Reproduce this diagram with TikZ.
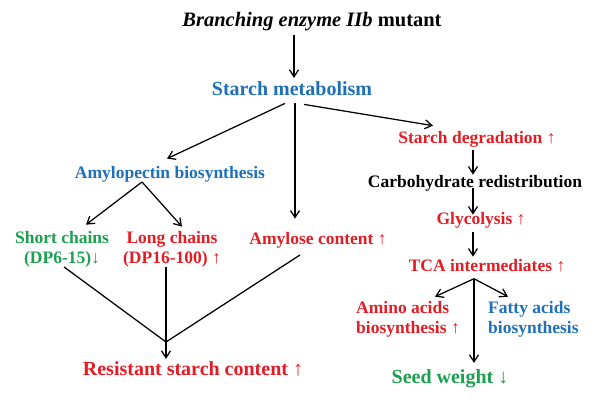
\documentclass[tikz,border=0pt]{standalone}
\usepackage{fontspec}
\setmainfont{Liberation Serif}
\usetikzlibrary{arrows.meta}
\definecolor{pathblue}{RGB}{30,112,186}
\definecolor{upred}{RGB}{228,28,36}
\definecolor{downgreen}{RGB}{26,160,78}
\tikzset{
  bigtxt/.style={font=\bfseries\fontsize{20}{22}\selectfont, inner sep=0pt, anchor=base},
  smalltxt/.style={font=\bfseries\fontsize{17.5}{20}\selectfont, inner sep=0pt, anchor=base, align=center},
  flow/.style={-{Straight Barb[length=7pt,width=9pt]}, line width=1.25pt},
  mergeline/.style={line width=1.25pt}
}
\begin{document}
\begin{tikzpicture}[x=1pt,y=-1pt]
  % mutante BEIIb e seus efeitos
  \useasboundingbox (0,0) rectangle (599,402);
  \node[bigtxt, font=\bfseries\fontsize{20.5}{22}\selectfont] (mutant) at (312,26) {{\itshape Branching enzyme IIb} mutant};
  \node[bigtxt, pathblue] (sm) at (292,95) {Starch metabolism};
  \node[smalltxt, pathblue] (ab) at (170,178) {Amylopectin biosynthesis};
  \node[smalltxt, downgreen] (sc) at (62,263) {Short chains\\(DP6-15)↓};
  \node[smalltxt, upred] (lc) at (172,263) {Long chains\\(DP16-100) ↑};
  \node[smalltxt, upred] (ac) at (318,244) {Amylose content ↑};
  \node[bigtxt, upred] (rs) at (193,375) {Resistant starch content ↑};
  % ramo da direita
  \node[smalltxt, upred] (sd) at (477,143) {Starch degradation ↑};
  \node[smalltxt] (cr) at (475,187) {Carbohydrate redistribution};
  \node[smalltxt, upred] (gl) at (481,224) {Glycolysis ↑};
  \node[smalltxt, upred] (tca) at (487,271) {TCA intermediates ↑};
  \node[smalltxt, upred, anchor=base west, align=left] (aa) at (356,333) {Amino acids\\biosynthesis ↑};
  \node[smalltxt, pathblue, anchor=base west, align=left] (fa) at (488,333) {Fatty acids\\biosynthesis};
  \node[bigtxt, downgreen] (sw) at (450,383) {Seed weight ↓};
  % setas
  \draw[flow] ([xshift=-18pt,yshift=-4pt]mutant.south) -- ([xshift=2pt,yshift=3pt]sm.north);
  \draw[flow] ([xshift=-7pt,yshift=-8pt]sm.south) -- ([xshift=-3pt,yshift=7pt]ab.north);
  \draw[flow] ([xshift=3pt,yshift=-8pt]sm.south) -- ([xshift=-23pt,yshift=13pt]ac.north);
  \draw[flow] ([xshift=12pt,yshift=-9pt]sm.south) -- ([xshift=-44pt,yshift=5pt]sd.north);
  \coordinate (abfork) at ([xshift=-28pt]ab.south);
  \draw[flow] (abfork) -- ([xshift=24pt,yshift=6pt]sc.north);
  \draw[flow] (abfork) -- ([xshift=10pt,yshift=4pt]lc.north);
  \coordinate (rsjoin) at (166,342);
  \draw[mergeline] ([xshift=2pt]sc.south) -- (rsjoin);
  \draw[mergeline] ([xshift=-6pt]lc.south) -- (rsjoin);
  \draw[mergeline] ([xshift=-18pt,yshift=-7pt]ac.south) -- (rsjoin);
  \draw[flow] (rsjoin) -- ([xshift=-27pt,yshift=2pt]rs.north);
  \draw[flow] ([xshift=-4pt,yshift=-3pt]sd.south) -- ([xshift=-2pt]cr.north);
  \draw[flow] ([xshift=-2pt,yshift=3pt]cr.south) -- ([xshift=-8pt,yshift=-3pt]gl.north);
  \draw[flow] ([xshift=-8pt,yshift=-4pt]gl.south) -- ([xshift=-14pt,yshift=2pt]tca.north);
  \coordinate (tcafork) at ([xshift=-13pt,yshift=-7pt]tca.south);
  \draw[flow] (tcafork) -- ([xshift=79pt,yshift=4pt]aa.north west);
  \draw[flow] (tcafork) -- ([xshift=20pt,yshift=4pt]fa.north west);
  \draw[flow] (tcafork) -- ([xshift=24pt,yshift=6pt]sw.north);
\end{tikzpicture}
\end{document}
